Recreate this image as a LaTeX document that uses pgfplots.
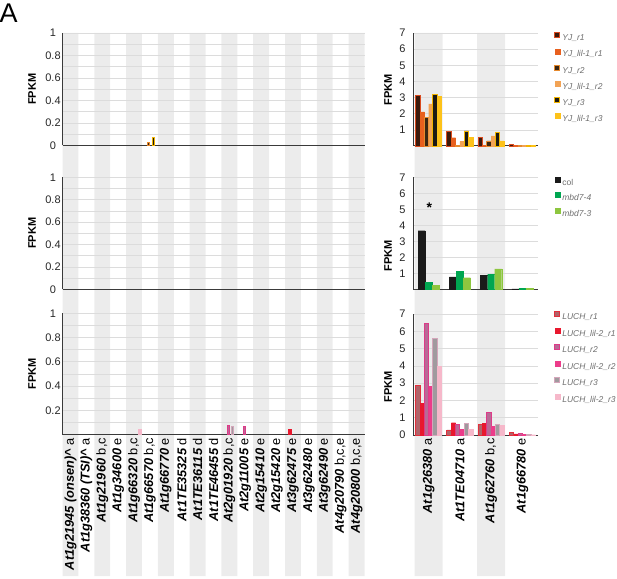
\documentclass[border=0pt]{standalone}
\usepackage{pgfplots}
\pgfplotsset{compat=1.18}
\usepackage{fontspec}
\setmainfont{Liberation Sans}
\newcommand\gl[2]{\textbf{\textit{#1}}\ #2}

\definecolor{stripe}{HTML}{ECECEC}
\definecolor{gridc}{HTML}{DCDCDC}
\definecolor{axc}{HTML}{3A3A3A}
\definecolor{legtxt}{HTML}{6E6E6E}
\definecolor{yjAf}{HTML}{3C1A0C}\definecolor{yjAd}{HTML}{D94A1E}
\definecolor{yjB}{HTML}{E8601E}
\definecolor{yjCf}{HTML}{3A2612}\definecolor{yjCd}{HTML}{E68A2E}
\definecolor{yjD}{HTML}{F2A355}
\definecolor{yjEf}{HTML}{1C1A14}\definecolor{yjEd}{HTML}{F2B400}
\definecolor{yjF}{HTML}{FDC21A}
\definecolor{colc}{HTML}{1A1A1A}
\definecolor{mbdA}{HTML}{00A651}
\definecolor{mbdB}{HTML}{8DC63F}
\definecolor{luAf}{HTML}{B0646A}\definecolor{luAd}{HTML}{E2303C}
\definecolor{luB}{HTML}{E8182E}
\definecolor{luCf}{HTML}{B86A96}\definecolor{luCd}{HTML}{DE3A88}
\definecolor{luD}{HTML}{EC3C8A}
\definecolor{luEf}{HTML}{A09A9E}\definecolor{luEd}{HTML}{D4A6BA}
\definecolor{luF}{HTML}{F6B8CA}

\tikzset{
  s-yjA/.style={fill=yjAf, draw=yjAd, line width=0.9pt},
  s-yjB/.style={fill=yjB, draw=yjB, line width=0.2pt},
  s-yjC/.style={fill=yjCf, draw=yjCd, line width=0.9pt},
  s-yjD/.style={fill=yjD, draw=yjD, line width=0.2pt},
  s-yjE/.style={fill=yjEf, draw=yjEd, line width=0.9pt},
  s-yjF/.style={fill=yjF, draw=yjF, line width=0.2pt},
  s-col/.style={fill=colc, draw=colc, line width=0.2pt},
  s-mA/.style={fill=mbdA, draw=mbdA, line width=0.2pt},
  s-mB/.style={fill=mbdB, draw=mbdB, line width=0.2pt},
  s-luA/.style={fill=luAf, draw=luAd, line width=0.9pt},
  s-luB/.style={fill=luB, draw=luB, line width=0.2pt},
  s-luC/.style={fill=luCf, draw=luCd, line width=0.9pt},
  s-luD/.style={fill=luD, draw=luD, line width=0.2pt},
  s-luE/.style={fill=luEf, draw=luEd, line width=0.9pt},
  s-luF/.style={fill=luF, draw=luF, line width=0.2pt},
}

\pgfplotsset{
  stripes/.style={scale only axis, anchor=south west, hide axis, enlargelimits=false,
    ymin=0, ymax=1, height=543pt, clip=false},
  panel/.style={
    scale only axis, anchor=south west, enlargelimits=false, ybar,
    axis x line*=bottom, axis y line*=left,
    axis line style={-, draw=axc, line width=1pt},
    ymajorgrids, yminorgrids,
    major grid style={draw=gridc, line width=0.7pt},
    minor grid style={draw=gridc, line width=0.7pt},
    major tick length=0pt, minor tick length=0pt,
    /pgf/number format/assume math mode=true,
    yticklabel style={font=\fontsize{11}{13}\selectfont, text=black!85, anchor=center},
    xticklabel style={font=\fontsize{12.8}{14}\selectfont, text=black, rotate=90, anchor=east},
    ylabel={FPKM},
    ylabel style={font=\bfseries\fontsize{11}{13}\selectfont, anchor=center},
    clip=false,
  },
  leftp/.style={panel, width=302pt, xmin=-0.5, xmax=18.5, ymin=0, ymax=1, bar width=0.14,
    minor ytick={0.1,0.3,0.5,0.7,0.9},
    yticklabel style={xshift=-9.5pt},
    ylabel style={at={(axis description cs:-0.101,0.5)}}},
  rightp/.style={panel, width=125pt, xmin=-0.5, xmax=3.5, ymin=0, ymax=7,
    yticklabel style={xshift=-10.5pt}},
  leg/.style={legend cell align=left,
    legend image code/.code={\draw[##1] (0pt,0.6pt) rectangle (5pt,5.6pt);},
    legend style={draw=none, fill=none, inner sep=0pt, anchor=north west,
      font=\itshape\fontsize{8.5}{10}\selectfont, text=legtxt,
      nodes={inner xsep=2pt, inner ysep=0pt, text height=7pt, text depth=2pt}}},
}

\begin{document}
\begin{tikzpicture}
\useasboundingbox (0pt,0pt) rectangle (617pt,578pt);
\node[font=\fontsize{27}{30}\selectfont, inner sep=0pt, anchor=center] at (8.7pt,565pt) {A};

% background stripes
\begin{axis}[stripes, at={(62.5pt,2pt)}, width=302pt, xmin=-0.5, xmax=18.5]
\addplot[ybar, bar width=1, fill=stripe, draw=none] coordinates {(0,1)(2,1)(4,1)(6,1)(8,1)(10,1)(12,1)(14,1)(16,1)(18,1)};
\end{axis}
\begin{axis}[stripes, at={(413pt,2pt)}, width=125pt, xmin=-0.5, xmax=3.5]
\addplot[ybar, bar width=0.9, fill=stripe, draw=none] coordinates {(0,1)(2,1)};
\end{axis}

% left top (YJ)
\begin{axis}[leftp, at={(62.5pt,432.5pt)}, height=112.5pt,
  ytick={0,0.2,0.4,0.6,0.8,1}, xtick=\empty]
\addplot[s-yjC, bar shift=-0.07] coordinates {(5,0.03)};
\addplot[s-yjE, bar shift=0.21] coordinates {(5,0.07)};
\end{axis}

% left middle (mbd)
\begin{axis}[leftp, at={(62.5pt,288.7pt)}, height=112pt,
  ytick={0,0.2,0.4,0.6,0.8,1}, xtick=\empty]
\end{axis}

% left bottom (LUCH)
\begin{axis}[leftp, at={(62.5pt,143.5pt)}, height=121.2pt,
  ytick={0.2,0.4,0.6,0.8,1},
  xtick={0,1,2,3,4,5,6,7,8,9,10,11,12,13,14,15,16,17,18},
  xticklabels={{\gl{At1g21945 (onsen)\textasciicircum}{a}},{\gl{At1g38360 (TSI)\textasciicircum}{a}},
    {\gl{At1g21960}{b,c}},{\gl{At1g34600}{e}},{\gl{At1g66320}{b,c}},{\gl{At1g66570}{b,c}},
    {\gl{At1g66770}{e}},{\gl{At1TE35325}{d}},{\gl{At1TE36115}{d}},{\gl{At1TE46455}{d}},
    {\gl{At2g01920}{b,c}},{\gl{At2g11005}{e}},{\gl{At2g15410}{e}},{\gl{At2g15420}{e}},
    {\gl{At3g62475}{e}},{\gl{At3g62480}{e}},{\gl{At3g62490}{e}},{\gl{At4g20790}{b,c,e}},
    {\gl{At4g20800}{b,c,e}}}]
\addplot[s-luB, bar shift=-0.21] coordinates {(14,0.045)};
\addplot[s-luC, bar shift=-0.07] coordinates {(10,0.077)(11,0.066)};
\addplot[s-luE, bar shift=0.21] coordinates {(10,0.07)};
\addplot[s-luF, bar shift=0.35] coordinates {(4,0.045)};
\end{axis}

% right top (YJ)
\begin{axis}[rightp, leg, at={(413pt,432pt)}, height=113pt, bar width=0.138,
  ytick={1,2,3,4,5,6,7}, xtick=\empty,
  ylabel style={at={(axis description cs:-0.2,0.5)}},
  legend style={at={(axis description cs:1.13,1.008)}, row sep=5.8pt}]
\addplot[s-yjA, bar shift=-0.345] coordinates {(0,3.15)(1,0.91)(2,0.50)(3,0.09)};
\addplot[s-yjB, bar shift=-0.207] coordinates {(0,2.11)(1,0.52)(2,0.05)(3,0.06)};
\addplot[s-yjC, bar shift=-0.069] coordinates {(0,1.76)(1,0.02)(2,0.31)(3,0.05)};
\addplot[s-yjD, bar shift=0.069] coordinates {(0,2.61)(1,0.29)(2,0.62)(3,0.05)};
\addplot[s-yjE, bar shift=0.207] coordinates {(0,3.17)(1,0.93)(2,0.81)(3,0.04)};
\addplot[s-yjF, bar shift=0.345] coordinates {(0,3.09)(1,0.54)(2,0.31)(3,0.03)};
\legend{YJ\_r1, YJ\_lil-1\_r1, YJ\_r2, YJ\_lil-1\_r2, YJ\_r3, YJ\_lil-1\_r3}
\end{axis}

% right middle (mbd)
\begin{axis}[rightp, leg, at={(413pt,288.7pt)}, height=112pt, bar width=0.225,
  ytick={1,2,3,4,5,6,7}, xtick=\empty,
  ylabel style={at={(axis description cs:-0.2,0.3)}},
  legend style={at={(axis description cs:1.136,1.004)}, row sep=5.2pt}]
\addplot[s-col, bar shift=-0.225] coordinates {(0,3.66)(1,0.77)(2,0.87)(3,0.02)};
\addplot[s-mA, bar shift=0] coordinates {(0,0.44)(1,1.14)(2,0.95)(3,0.06)};
\addplot[s-mB, bar shift=0.225] coordinates {(0,0.25)(1,0.73)(2,1.27)(3,0.05)};
\legend{\upshape col, mbd7-4, mbd7-3}
\node[font=\bfseries\fontsize{14}{16}\selectfont, inner sep=0pt] at (axis cs:0.02,5.1) {*};
\end{axis}

% right bottom (LUCH)
\begin{axis}[rightp, leg, at={(413pt,143pt)}, height=121pt, bar width=0.138,
  ytick={0,1,2,3,4,5,6,7},
  xtick={0,1,2,3},
  xticklabels={{\gl{At1g26380}{a}},{\gl{At1TE04710}{a}},{\gl{At1g62760}{b,c}},{\gl{At1g66780}{e}}},
  ylabel style={at={(axis description cs:-0.2,0.4)}},
  legend style={at={(axis description cs:1.13,1.026)}, row sep=6.2pt}]
\addplot[s-luA, bar shift=-0.345] coordinates {(0,2.87)(1,0.29)(2,0.60)(3,0.12)};
\addplot[s-luB, bar shift=-0.207] coordinates {(0,1.85)(1,0.71)(2,0.69)(3,0.06)};
\addplot[s-luC, bar shift=-0.069] coordinates {(0,6.46)(1,0.62)(2,1.33)(3,0.08)};
\addplot[s-luD, bar shift=0.069] coordinates {(0,2.83)(1,0.33)(2,0.52)(3,0.04)};
\addplot[s-luE, bar shift=0.207] coordinates {(0,5.59)(1,0.68)(2,0.60)(3,0.03)};
\addplot[s-luF, bar shift=0.345] coordinates {(0,3.99)(1,0.33)(2,0.57)(3,0.02)};
\legend{LUCH\_r1, LUCH\_lil-2\_r1, LUCH\_r2, LUCH\_lil-2\_r2, LUCH\_r3, LUCH\_lil-2\_r3}
\end{axis}
\end{tikzpicture}
\end{document}
